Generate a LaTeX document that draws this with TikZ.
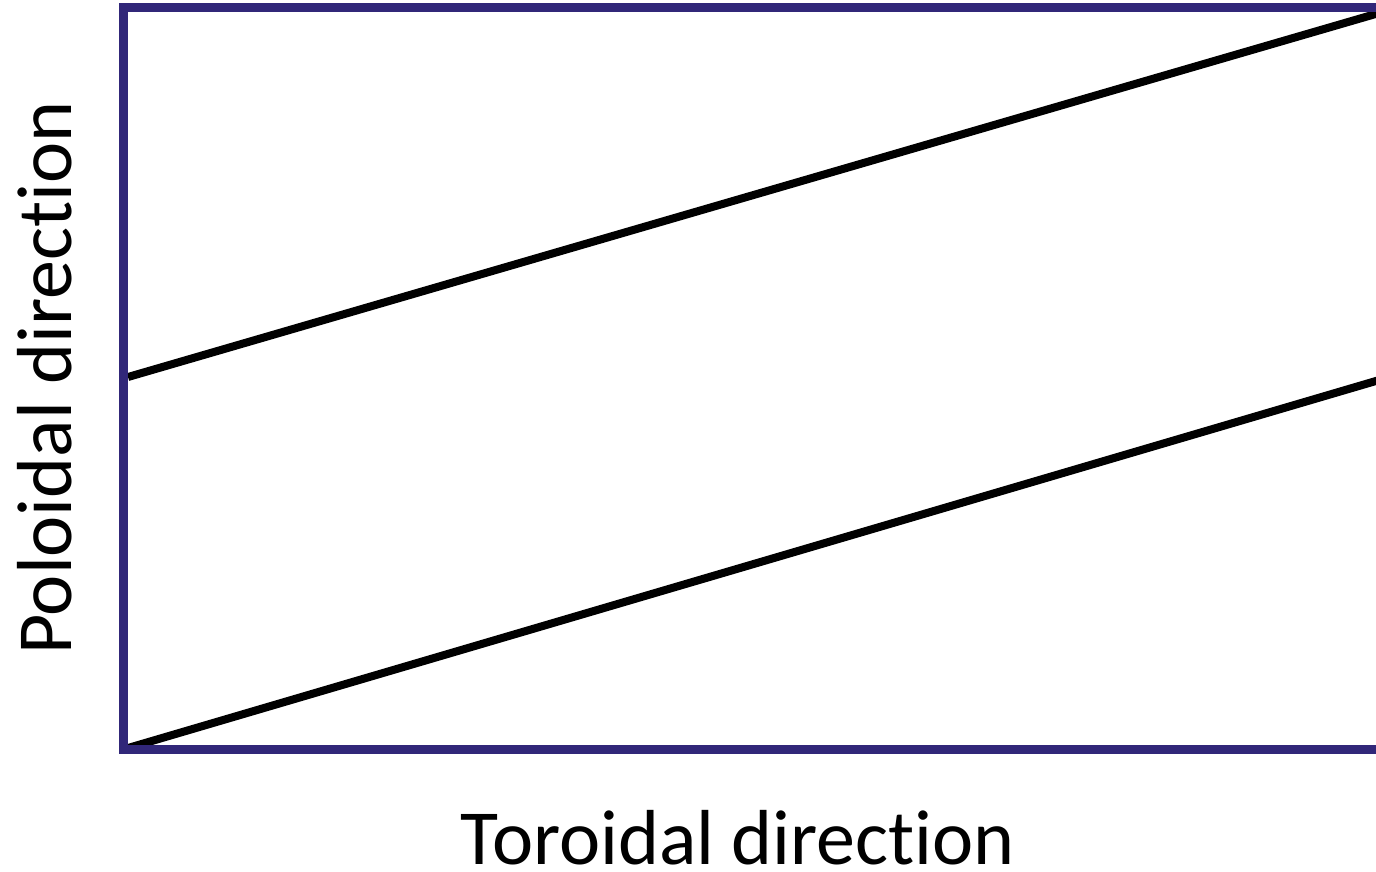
\documentclass[tikz,border=0pt]{standalone}
\usepackage{fontspec}
\setmainfont[Ligatures=NoCommon]{Carlito}
\definecolor{framecol}{RGB}{49,39,121}
\begin{document}
\begin{tikzpicture}[x=1pt,y=-1pt,
  fieldline/.style={black,line width=8pt},
  framebox/.style={framecol,line width=9pt},
  axislabel/.style={inner sep=0pt,anchor=base,text depth=0pt,font=\fontsize{78}{80}\selectfont}]
\useasboundingbox (0,0) rectangle (1376,871);
\begin{scope}
\clip (0,0) rectangle (1376,871);
\coordinate (bl) at (128,748);
\coordinate (br) at (1400,373.9);
\coordinate (ml) at (128,377);
\coordinate (tr) at (1400,6.9);
\draw[fieldline] (bl) -- (br);
\draw[fieldline] (ml) -- (tr);
\coordinate (ftr) at (1400,7.5);
\coordinate (ftl) at (123.5,7.5);
\coordinate (fbl) at (123.5,749.5);
\coordinate (fbr) at (1400,749.5);
\draw[framebox] (ftr) -- (ftl) -- (fbl) -- (fbr);
\end{scope}
\node[axislabel] (xlabel) at (738,864) {Toroidal direction};
\node[axislabel,rotate=90] (ylabel) at (71,378) {Poloidal direction};
\end{tikzpicture}
\end{document}
